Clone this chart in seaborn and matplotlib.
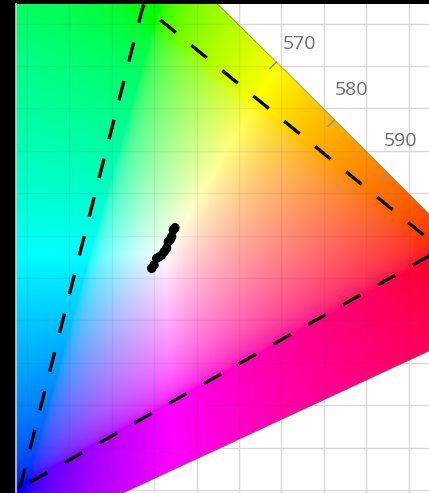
import numpy as np
import matplotlib
matplotlib.use("Agg")
import matplotlib.pyplot as plt
from matplotlib.patches import Polygon
import seaborn as sns

# CIE 1931 2-degree spectral locus (5 nm steps)
wavelengths = list(range(380, 705, 5))
locus_x = [0.1741, 0.1740, 0.1738, 0.1736, 0.1733, 0.1730, 0.1726, 0.1721, 0.1714, 0.1703,
           0.1689, 0.1669, 0.1644, 0.1611, 0.1566, 0.1510, 0.1440, 0.1355, 0.1241, 0.1096,
           0.0913, 0.0687, 0.0454, 0.0235, 0.0082, 0.0039, 0.0139, 0.0389, 0.0743, 0.1142,
           0.1547, 0.1929, 0.2296, 0.2658, 0.3016, 0.3373, 0.3731, 0.4087, 0.4441, 0.4788,
           0.5125, 0.5448, 0.5752, 0.6029, 0.6270, 0.6482, 0.6658, 0.6801, 0.6915, 0.7006,
           0.7079, 0.7140, 0.7190, 0.7230, 0.7260, 0.7283, 0.7300, 0.7311, 0.7320, 0.7327,
           0.7334, 0.7340, 0.7344, 0.7346, 0.7347]
locus_y = [0.0050, 0.0050, 0.0049, 0.0049, 0.0048, 0.0048, 0.0048, 0.0048, 0.0051, 0.0058,
           0.0069, 0.0086, 0.0109, 0.0138, 0.0177, 0.0227, 0.0297, 0.0399, 0.0578, 0.0868,
           0.1327, 0.2007, 0.2950, 0.4127, 0.5384, 0.6548, 0.7502, 0.8120, 0.8338, 0.8262,
           0.8059, 0.7816, 0.7543, 0.7243, 0.6923, 0.6589, 0.6245, 0.5896, 0.5547, 0.5202,
           0.4866, 0.4544, 0.4242, 0.3965, 0.3725, 0.3514, 0.3340, 0.3197, 0.3083, 0.2993,
           0.2920, 0.2859, 0.2809, 0.2770, 0.2740, 0.2717, 0.2700, 0.2689, 0.2680, 0.2673,
           0.2666, 0.2660, 0.2656, 0.2654, 0.2653]
labelled_nm = [570, 580, 590]

# gamut triangle (blue, green, red)
gamut_x = [0.1417, 0.2868, 0.6380]
gamut_y = [0.0524, 0.6210, 0.3340]

# measured white points
meas_x = [0.2970, 0.2998, 0.3029, 0.3060, 0.3088, 0.3118, 0.3147, 0.3166, 0.3190, 0.3206, 0.3225, 0.3245]
meas_y = [0.3114, 0.3153, 0.3232, 0.3250, 0.3271, 0.3310, 0.3354, 0.3428, 0.3455, 0.3487, 0.3566, 0.3593]

xlim = (0.137, 0.624)
ylim = (0.0465, 0.6231)

sns.set_style("whitegrid")
fig = plt.figure(figsize=(4.29, 4.93), dpi=100, facecolor="black")
ax = fig.add_axes([16 / 429, 0, 1 - 16 / 429, 489 / 493])
ax.set_facecolor("white")

# chromaticity colour fill
gx, gy = np.meshgrid(np.linspace(xlim[0], xlim[1], 500), np.linspace(ylim[0], ylim[1], 600))
X = gx / gy
Y = np.ones_like(gx)
Z = (1 - gx - gy) / gy
M = np.array([[3.2406, -1.5372, -0.4986],
              [-0.9689, 1.8758, 0.0415],
              [0.0557, -0.2040, 1.0570]])
rgb = np.einsum("ij,jkl->kli", M, np.stack([X, Y, Z]))
rgb = np.clip(rgb, 0, None)
rgb = rgb / rgb.max(axis=2, keepdims=True)
rgb = np.where(rgb <= 0.0031308, 12.92 * rgb, 1.055 * rgb ** (1 / 2.4) - 0.055)
rgb = np.clip(rgb, 0, 1)

img = ax.imshow(rgb, origin="lower", extent=[xlim[0], xlim[1], ylim[0], ylim[1]],
                aspect="auto", interpolation="bilinear", zorder=1)
poly = Polygon(np.column_stack([locus_x, locus_y]), closed=True, facecolor="none",
               edgecolor="#606030", lw=0.6, alpha=0.6, zorder=1.1)
ax.add_patch(poly)
img.set_clip_path(poly)

xt = np.arange(0.15, 0.65, 0.05)
yt = np.arange(0.05, 0.65, 0.05)
# faint grid showing through the colour fill
for v in xt:
    ax.axvline(v, color="#404040", lw=1, alpha=0.08, zorder=1.2).set_clip_path(poly)
for v in yt:
    ax.axhline(v, color="#404040", lw=1, alpha=0.08, zorder=1.2).set_clip_path(poly)

# wavelength ticks and labels
label_offsets = {570: (21, 11), 580: (17, 20), 590: (14, 21)}
for nm in labelled_nm:
    i = wavelengths.index(nm)
    px, py = locus_x[i], locus_y[i]
    tx = locus_x[i + 1] - locus_x[i - 1]
    ty = locus_y[i + 1] - locus_y[i - 1]
    n = np.array([ty, -tx]) / np.hypot(tx, ty)
    ex, ey = px + n[0] * 0.011, py + n[1] * 0.011
    ax.plot([px, ex], [py, ey], color="#8a8fa8", lw=1, zorder=2)
    ax.annotate(str(nm), (ex, ey), xytext=label_offsets[nm],
                textcoords="offset points", ha="center", va="bottom",
                fontsize=14, color="#6e6e6e", family="Open Sans")

# gamut triangle
ax.plot(gamut_x + gamut_x[:1], gamut_y + gamut_y[:1], color="black", lw=2.4,
        dashes=(6, 6), zorder=3)

sns.scatterplot(x=meas_x, y=meas_y, color="black", s=45, edgecolor="none", ax=ax, zorder=4)

ax.set_xlim(*xlim)
ax.set_ylim(*ylim)
ax.set_xticks(xt)
ax.set_yticks(yt)
ax.tick_params(length=0, labelleft=False, labelbottom=False)
ax.grid(True, color="#d8d8d8", lw=1)
ax.set_axisbelow(True)
for s in ["top", "right", "bottom"]:
    ax.spines[s].set_visible(False)
ax.spines["left"].set_color("#d0d0d0")
ax.spines["left"].set_linewidth(1.2)

fig.savefig("out.png", dpi=100, facecolor="black")
